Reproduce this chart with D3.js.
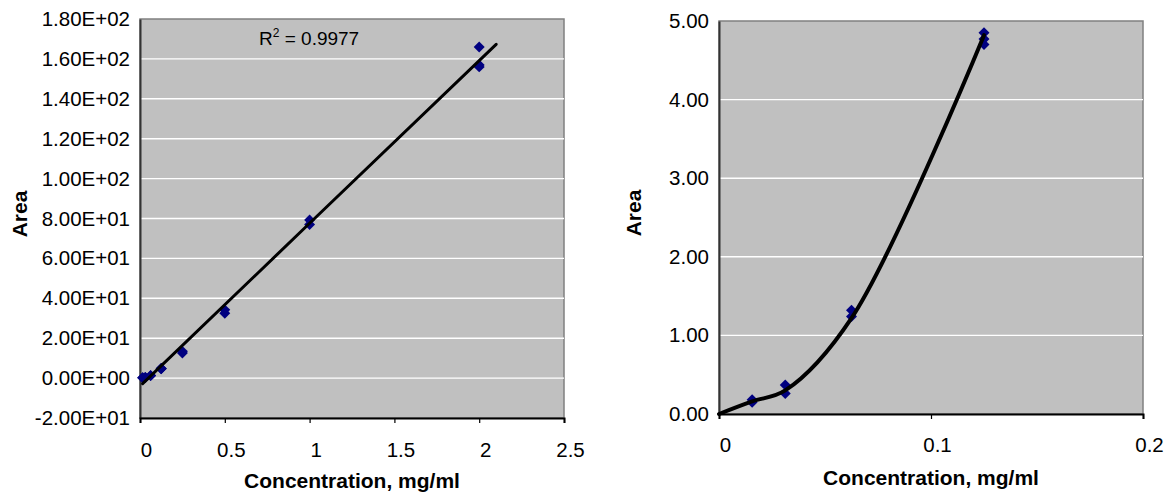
<!DOCTYPE html>
<html>
<head>
<meta charset="utf-8">
<script src="https://cdn.jsdelivr.net/npm/d3@7"></script>
<style>
    body { margin: 0; background: #fff; }
    text { font-family: "Liberation Sans", Arial, sans-serif; fill: #000; }
</style>
</head>
<body>
<div id="graph"></div>
<script>
// measured standards: concentration (mg/ml) and peak area
var concentration = [0.015625, 0.015625, 0.03125, 0.03125, 0.0625, 0.0625, 0.125, 0.125, 0.125,
                     0.25, 0.25, 0.5, 0.5, 1, 1, 2, 2, 2];
var area = [0.15, 0.18, 0.26, 0.37, 1.24, 1.32, 4.70, 4.77, 4.85,
            12.6, 13.4, 32.5, 34.2, 77.0, 79.3, 156.0, 157.0, 166.0];

// trendline of the full range
var trendConc = [0.015625, 1, 2.1];
var trendArea = [-2.8, 77.6, 167.3];
var rSquared = "0.9977";

// smoothed line of the low range
var curveConc = [0, 0.015625, 0.03125, 0.0625, 0.125];
var curveArea = [0, 0.16, 0.30, 1.22, 4.82];

var leftYTicks = [-20, 0, 20, 40, 60, 80, 100, 120, 140, 160, 180];
var leftXTicks = [0, 0.5, 1, 1.5, 2, 2.5];
var rightYTicks = [0, 1, 2, 3, 4, 5];
var rightXTicks = [0, 0.1, 0.2];

var width = 1169;
var height = 494;

var svg = d3.select("#graph").append("svg")
    .attr("width", width)
    .attr("height", height);

// 1.80E+02 style labels
function sciFormat(v) {
    var s = d3.format(".2e")(v).replace("\u2212", "-");
    var parts = s.split("e");
    var sign = parts[1].charAt(0);
    var exp = parts[1].slice(1);
    if (exp.length < 2) exp = "0" + exp;
    return parts[0] + "E" + sign + exp;
}

function drawChart(opt) {
    var x = d3.scaleLinear().domain(opt.xDomain).range([opt.left, opt.right]);
    var y = d3.scaleLinear().domain(opt.yDomain).range([opt.bottom, opt.top]);

    var g = svg.append("g");

    g.append("rect")
        .attr("x", opt.left)
        .attr("y", opt.top)
        .attr("width", opt.right - opt.left)
        .attr("height", opt.bottom - opt.top)
        .attr("fill", "#c0c0c0")
        .attr("stroke", "#808080")
        .attr("stroke-width", 1.5);

    // gridlines
    g.append("g")
        .selectAll("line")
        .data(opt.yTicks.filter(function(d) { return d != opt.yDomain[0] && d != opt.yDomain[1]; }))
        .join("line")
        .attr("x1", opt.left)
        .attr("x2", opt.right)
        .attr("y1", d => y(d))
        .attr("y2", d => y(d))
        .attr("stroke", "#fff")
        .attr("stroke-width", 1.4);

    // y axis
    var yAxis = g.append("g")
        .attr("transform", "translate(" + opt.left + ",0)")
        .call(d3.axisLeft(y).tickValues(opt.yTicks).tickSize(0).tickPadding(10).tickFormat(opt.yFormat));
    yAxis.select(".domain").attr("stroke", "#333").attr("stroke-width", 2);
    yAxis.selectAll("text")
        .attr("font-size", 20.5)
        .attr("font-family", "Liberation Sans, Arial, sans-serif");

    // x axis
    var xAxis = g.append("g")
        .attr("transform", "translate(0," + opt.bottom + ")")
        .call(d3.axisBottom(x).tickValues(opt.xTicks).tickSizeOuter(0).tickSize(5).tickFormat(d3.format("")));
    xAxis.select(".domain").attr("stroke", "#000").attr("stroke-width", 2);
    xAxis.selectAll(".tick line").attr("stroke", "#000").attr("stroke-width", 1.2);
    xAxis.selectAll("text")
        .attr("font-size", 20.5)
        .attr("font-family", "Liberation Sans, Arial, sans-serif")
        .attr("x", 6)
        .attr("y", opt.labelGap)
        .attr("dy", 0);

    // points
    g.append("g")
        .selectAll("path")
        .data(d3.range(concentration.length).filter(i => concentration[i] <= opt.xDomain[1]))
        .join("path")
        .attr("d", d3.symbol(d3.symbolSquare, 60))
        .attr("transform", i => "translate(" + x(concentration[i]) + "," + y(area[i]) + ") rotate(45)")
        .attr("fill", "#000080");

    // line
    var line = d3.line()
        .x(i => x(opt.lineX[i]))
        .y(i => y(opt.lineY[i]))
        .curve(opt.curve);

    g.append("path")
        .datum(d3.range(opt.lineX.length))
        .attr("d", line)
        .attr("fill", "none")
        .attr("stroke", "#000")
        .attr("stroke-width", opt.lineWidth)
        .attr("stroke-linecap", "round");

    g.append("text")
        .attr("x", (opt.left + opt.right) / 2)
        .attr("y", opt.titleY)
        .attr("text-anchor", "middle")
        .attr("font-size", 21)
        .attr("font-weight", "bold")
        .text("Concentration, mg/ml");

    g.append("text")
        .attr("transform", "translate(" + opt.areaX + "," + opt.areaY + ") rotate(-90)")
        .attr("text-anchor", "middle")
        .attr("font-size", 21)
        .attr("font-weight", "bold")
        .text("Area");

    return { x: x, y: y, g: g };
}

var leftChart = drawChart({
    left: 140, right: 564, top: 19, bottom: 418,
    xDomain: [0, 2.5], yDomain: [-20, 180],
    xTicks: leftXTicks, yTicks: leftYTicks,
    yFormat: sciFormat,
    lineX: trendConc, lineY: trendArea,
    curve: d3.curveLinear, lineWidth: 3,
    labelGap: 39, titleY: 488,
    areaX: 27, areaY: 214
});

drawChart({
    left: 719, right: 1143, top: 21, bottom: 414,
    xDomain: [0, 0.2], yDomain: [0, 5],
    xTicks: rightXTicks, yTicks: rightYTicks,
    yFormat: d3.format(".2f"),
    lineX: curveConc, lineY: curveArea,
    curve: d3.curveCatmullRom.alpha(0.5), lineWidth: 4,
    labelGap: 38, titleY: 485,
    areaX: 641, areaY: 213
});

// R squared label
var r2 = leftChart.g.append("text")
    .attr("x", 259)
    .attr("y", 45)
    .attr("font-size", 19);
r2.append("tspan").text("R");
r2.append("tspan").attr("font-size", 12).attr("dy", -8).text("2");
r2.append("tspan").attr("dy", 8).text(" = " + rSquared);
</script>
</body>
</html>
